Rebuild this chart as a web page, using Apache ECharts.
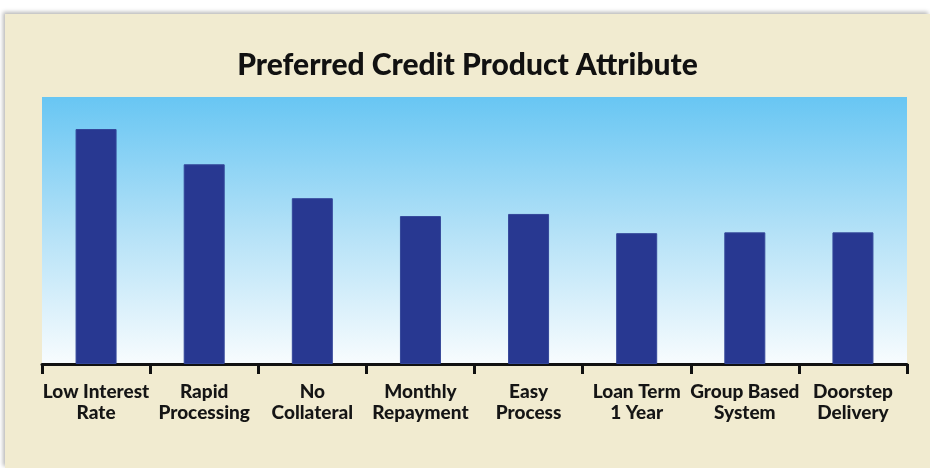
<!DOCTYPE html>
<html>
<head>
<meta charset="utf-8">
<script src="https://cdn.jsdelivr.net/npm/echarts@6/dist/echarts.min.js"></script>
<style>
  html, body { margin: 0; padding: 0; background: #ffffff; }
  #panel {
    position: absolute; left: 5px; top: 14px; width: 925px; height: 454px;
    background: #f1ebd0;
    box-shadow: -2px -2px 4px rgba(0,0,0,0.28);
  }
  #chart { width: 925px; height: 454px; }
</style>
</head>
<body>
<div id="panel"><div id="chart"></div></div>
<script>
// Preferred credit product attributes (relative preference score)
const categories = [
  'Low Interest\nRate',
  'Rapid\nProcessing',
  'No\nCollateral',
  'Monthly\nRepayment',
  'Easy\nProcess',
  'Loan Term\n1 Year',
  'Group Based\nSystem',
  'Doorstep\nDelivery'
];
const scores = [88.0, 74.8, 62.1, 55.4, 56.2, 49.0, 49.3, 49.3];
const scoreMax = 100;

const chart = echarts.init(document.getElementById('chart'));
chart.setOption({
  animation: false,
  backgroundColor: 'transparent',
  title: {
    text: 'Preferred Credit Product Attribute',
    left: 'center',
    top: 31,
    textStyle: { fontFamily: 'Lato', fontWeight: 900, fontSize: 30, color: '#111111' }
  },
  grid: {
    left: 37, right: 23, top: 83, bottom: 104,
    show: true,
    borderWidth: 0,
    backgroundColor: new echarts.graphic.LinearGradient(0, 0, 0, 1, [
      { offset: 0, color: '#68c6f3' },
      { offset: 0.5, color: '#b3e1f7' },
      { offset: 1, color: '#f8fcfe' }
    ])
  },
  xAxis: {
    type: 'category',
    data: categories,
    boundaryGap: true,
    axisLine: { lineStyle: { color: '#111111', width: 3 } },
    axisTick: { show: true, length: 10, lineStyle: { color: '#111111', width: 3 } },
    axisLabel: {
      interval: 0,
      margin: 17,
      fontFamily: 'Lato',
      fontWeight: 900,
      fontSize: 19,
      lineHeight: 21,
      color: '#151515'
    }
  },
  yAxis: {
    type: 'value',
    min: 0,
    max: scoreMax,
    show: false,
    splitLine: { show: false }
  },
  series: [{
    type: 'bar',
    data: scores,
    barWidth: 41,
    itemStyle: { color: '#283891', borderColor: '#34479a', borderWidth: 1 }
  }]
});
</script>
</body>
</html>
